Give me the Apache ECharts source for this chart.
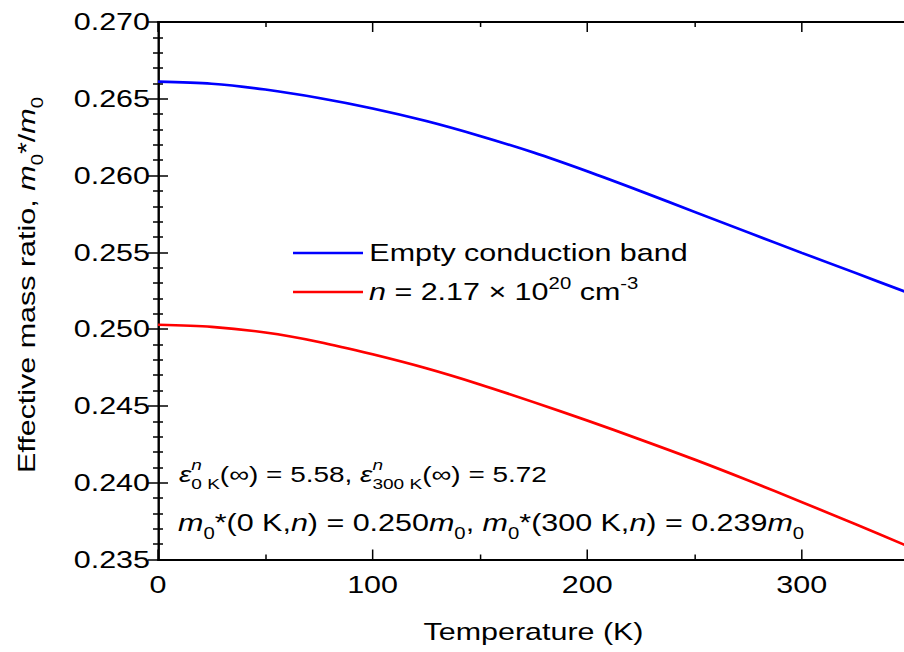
<!DOCTYPE html>
<html>
<head>
<meta charset="utf-8">
<script src="https://cdn.jsdelivr.net/npm/echarts@6/dist/echarts.min.js"></script>
<style>
  html, body { margin: 0; padding: 0; background: #fff; overflow: hidden; }
  /* the figure is drawn in a narrower frame and widened, giving its broad lettering */
  #chart { width: 712px; height: 652px; transform: scaleX(1.2697); transform-origin: 0 0; }
</style>
</head>
<body>
<div id="chart"></div>
<script>
// Temperature grid (K)
const temperatures = [0, 25, 50, 75, 100, 125, 150, 175, 200, 225, 250, 275, 300, 325, 350];
// Effective mass ratio m0*/m0, empty conduction band
const emptyBand = [0.26612, 0.26598, 0.26560, 0.26505, 0.26437, 0.26355, 0.26258, 0.26150,
                   0.26028, 0.25898, 0.25764, 0.25630, 0.25497, 0.25366, 0.25234];
// Effective mass ratio at n = 2.17e20 cm^-3
const dopedBand = [0.25029, 0.25015, 0.24978, 0.24917, 0.24836, 0.24745, 0.24640, 0.24525,
                   0.24405, 0.24280, 0.24151, 0.24015, 0.23874, 0.23730, 0.23583];

const seriesNames = ['Empty conduction band', 'n = 2.17 × 10^20 cm^-3'];
const xRange = { min: 0, max: 350, step: 100 };
const yRange = { min: 0.235, max: 0.270, step: 0.005 };

const SX = 904 / 712;            // horizontal widening of the drawing frame
const px = (v) => v / SX;        // page x -> frame x
const FONT = '"Liberation Sans", Arial, Helvetica, sans-serif';

const measureCtx = document.createElement('canvas').getContext('2d');
function textWidth(t, size, italic) {
  measureCtx.font = (italic ? 'italic ' : '') + size + 'px ' + FONT;
  return measureCtx.measureText(t).width;
}

// Lay out styled fragments on one baseline.
// style: 'n' normal, 'i' italic, 'sub', 'sup', 'isup' (italic sup);
// a trailing '!' keeps the pen in place so the next fragment stacks under it.
function textRun(x0, baseline, parts, base) {
  base = base || 24;
  const small = Math.round(base * 0.66);
  const out = [];
  let x = x0;
  parts.forEach(([t, kind]) => {
    const stacked = kind.endsWith('!');
    const k = stacked ? kind.slice(0, -1) : kind;
    let size = base, italic = false, dy = 0;
    if (k === 'i') italic = true;
    if (k === 'sub') { size = small; dy = base * 0.33; }
    if (k === 'sup') { size = small; dy = -base * 0.5; }
    if (k === 'isup') { size = small; dy = -base * 0.55; italic = true; }
    out.push({
      type: 'text', x: x, y: baseline + dy - 0.35 * size, silent: true,
      style: {
        text: t, fontSize: size, fontFamily: FONT, fontStyle: italic ? 'italic' : 'normal',
        fill: '#000', align: 'left', verticalAlign: 'middle'
      }
    });
    if (!stacked) x += textWidth(t, size, italic);
  });
  return out;
}

const legendText2 = textRun(px(369), 300.5, [
  ['n', 'i'], [' = 2.17 × 10', 'n'], ['20', 'sup'], [' cm', 'n'], ['-3', 'sup']
]);

const noteLine1 = textRun(px(179), 482, [
  ['ε', 'i'], ['n', 'isup!'], ['0 K', 'sub'], ['(∞) = 5.58, ', 'n'],
  ['ε', 'i'], ['n', 'isup!'], ['300 K', 'sub'], ['(∞) = 5.72', 'n']
], 22);

const noteLine2 = textRun(px(178), 531, [
  ['m', 'i'], ['0', 'sub'], ['*(0 K,', 'n'], ['n', 'i'], [') = 0.250', 'n'], ['m', 'i'], ['0', 'sub'],
  [', ', 'n'], ['m', 'i'], ['0', 'sub'], ['*(300 K,', 'n'], ['n', 'i'], [') = 0.239', 'n'],
  ['m', 'i'], ['0', 'sub']
]);

// rotated axis title; the group scale keeps the widening along the text direction
const yTitle = {
  type: 'group', x: px(35), y: 473, rotation: Math.PI / 2, scaleX: SX, scaleY: 1 / SX,
  children: textRun(0, 0, [
    ['Effective mass ratio, ', 'n'], ['m', 'i'], ['0', 'sub'], ['*/', 'n'], ['m', 'i'], ['0', 'sub']
  ])
};

const labelFont = { fontSize: 24, fontFamily: FONT, color: '#000' };

function xAxis(pos, labels) {
  return {
    type: 'value', position: pos, min: xRange.min, max: xRange.max, interval: xRange.step,
    axisLine: { show: true, lineStyle: { color: '#000', width: 2 } },
    axisTick: { inside: true, length: 10, lineStyle: { color: '#000', width: 1.5 / SX } },
    minorTick: { show: true, splitNumber: 2, length: 5, lineStyle: { color: '#000', width: 1.5 / SX } },
    splitLine: { show: false },
    axisLabel: Object.assign({ show: labels, margin: 13, showMaxLabel: false }, labelFont),
    name: labels ? 'Temperature (K)' : '', nameLocation: 'middle', nameGap: 60,
    nameTextStyle: labelFont
  };
}
function yAxis(pos, labels) {
  return {
    type: 'value', position: pos, min: yRange.min, max: yRange.max, interval: yRange.step,
    axisLine: { show: true, lineStyle: { color: '#000', width: 2 / SX } },
    axisTick: { inside: true, length: px(10), lineStyle: { color: '#000', width: 1.5 } },
    minorTick: { show: true, splitNumber: 5, length: px(5), lineStyle: { color: '#000', width: 1.5 } },
    splitLine: { show: false },
    axisLabel: Object.assign({ show: labels, margin: px(8), formatter: (v) => v.toFixed(3) }, labelFont)
  };
}

function pairs(values) { return temperatures.map((t, i) => [t, values[i]]); }

const legendBase = {
  left: px(293), padding: 0, itemWidth: px(70), itemHeight: 2.5, icon: 'rect',
  selectedMode: false, textStyle: labelFont
};

const chart = echarts.init(document.getElementById('chart'), null, { renderer: 'svg' });
chart.setOption({
  animation: false,
  backgroundColor: '#fff',
  grid: { left: px(158), top: 22, width: px(751), height: 537.5, outerBoundsMode: 'none' },
  xAxis: [xAxis('bottom', true), xAxis('top', false)],
  yAxis: [yAxis('left', true), yAxis('right', false)],
  legend: [
    Object.assign({ data: [seriesNames[0]], top: 241 }, legendBase),
    Object.assign({ data: [seriesNames[1]], top: 280, formatter: () => ' ' }, legendBase)
  ],
  graphic: [yTitle].concat(legendText2, noteLine1, noteLine2),
  series: [
    {
      name: seriesNames[0], type: 'line', data: pairs(emptyBand), symbol: 'none',
      smooth: 0.3, lineStyle: { color: '#0000ff', width: 2.6 }, itemStyle: { color: '#0000ff' }
    },
    {
      name: seriesNames[1], type: 'line', data: pairs(dopedBand), symbol: 'none',
      smooth: 0.3, lineStyle: { color: '#ff0000', width: 2.6 }, itemStyle: { color: '#ff0000' }
    }
  ]
});
</script>
</body>
</html>
